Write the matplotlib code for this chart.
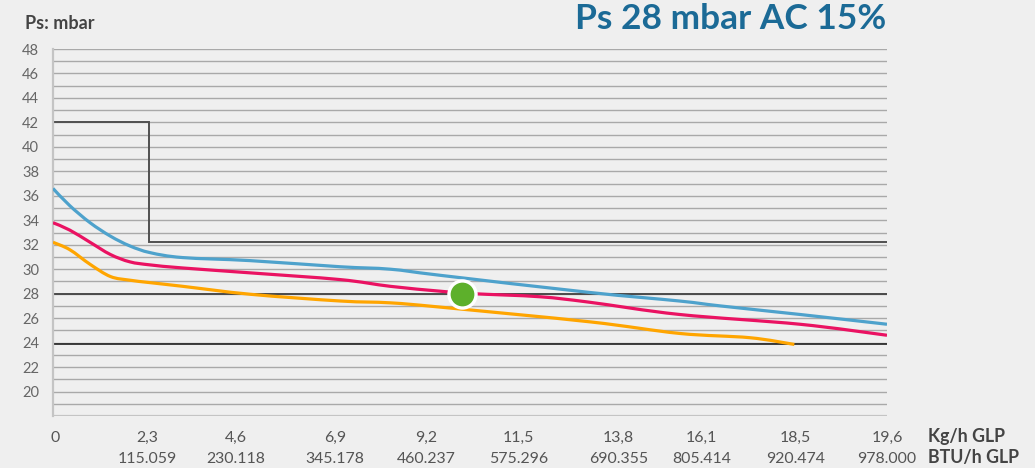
import matplotlib
matplotlib.use("Agg")
import matplotlib.pyplot as plt
import matplotlib.transforms as mtransforms
from matplotlib.path import Path
from matplotlib.patches import PathPatch

# ---- data (x expressed in tick-index units: 0 = "0", 9 = "19,6") ----
kg_labels = ["0", "2,3", "4,6", "6,9", "9,2", "11,5", "13,8", "16,1", "18,5", "19,6"]
btu_labels = ["", "115.059", "230.118", "345.178", "460.237", "575.296",
              "690.355", "805.414", "920.474", "978.000"]
y_ticks = [20, 22, 24, 26, 28, 30, 32, 34, 36, 38, 40, 42, 44, 46, 48]

blue_x = [0, 0.18, 0.40, 0.62, 0.83, 1.05, 1.40, 2.13, 3.10, 3.64, 4.18, 5.79, 6.76, 7.20, 8.06, 9.0]
blue_y = [36.6, 35.2, 33.8, 32.7, 31.9, 31.35, 30.95, 30.7, 30.2, 30.0, 29.5, 28.1, 27.4, 27.0, 26.3, 25.5]

red_x = [0, 0.18, 0.40, 0.62, 0.83, 1.05, 1.40, 2.13, 3.10, 3.64, 4.18, 4.53, 5.25, 5.79, 6.76, 8.06, 9.0]
red_y = [33.8, 33.2, 32.2, 31.2, 30.6, 30.35, 30.1, 29.7, 29.15, 28.6, 28.2, 28.0, 27.75, 27.3, 26.3, 25.5, 24.6]

orange_x = [0, 0.18, 0.40, 0.62, 0.83, 1.05, 1.40, 2.13, 3.10, 3.64, 4.18, 5.79, 6.76, 7.52, 8.0]
orange_y = [32.2, 31.6, 30.4, 29.4, 29.1, 28.9, 28.6, 27.95, 27.4, 27.25, 26.9, 25.7, 24.75, 24.4, 23.85]

limit_x = [0, 1.04, 1.04, 9.0]
limit_y = [42, 42, 32.25, 32.25]
ref_28 = 28
ref_low = 23.85
point_x, point_y = 4.41, 28

tick_pos = [0.02, 1.02, 1.97, 3.04, 4.03, 5.02, 6.10, 7.00, 8.01, 9.0]


def smooth_path(xs, ys, t=0.5):
    """Catmull-Rom curve through the points, as cubic Bezier segments."""
    pts = list(zip(xs, ys))
    verts = [pts[0]]
    codes = [Path.MOVETO]
    n = len(pts)
    for i in range(n - 1):
        p0 = pts[i - 1] if i > 0 else pts[i]
        p1 = pts[i]
        p2 = pts[i + 1]
        p3 = pts[i + 2] if i + 2 < n else pts[i + 1]
        c1 = (p1[0] + (p2[0] - p0[0]) * t / 3, p1[1] + (p2[1] - p0[1]) * t / 3)
        c2 = (p2[0] - (p3[0] - p1[0]) * t / 3, p2[1] - (p3[1] - p1[1]) * t / 3)
        verts += [c1, c2, p2]
        codes += [Path.CURVE4] * 3
    return Path(verts, codes)


# ---- figure ----
plt.rcParams['font.family'] = ['Lato', 'DejaVu Sans']
bg = '#efefef'
fig = plt.figure(figsize=(10.35, 4.68), dpi=100, facecolor=bg)
ax = fig.add_axes([53/1035, 52/468, (887-53)/1035, (416-49)/468])
ax.set_facecolor(bg)
ax.set_xlim(0, 9)
ax.set_ylim(18, 48)

for v in range(19, 49):
    ax.axhline(v, color='#a9a9a9', lw=1.0, zorder=1)
ax.axhline(18, color='#c4c4c4', lw=1.6, zorder=1)
for s in ['top', 'right', 'bottom']:
    ax.spines[s].set_visible(False)
ax.spines['left'].set_color('#c4c4c4')
ax.spines['left'].set_linewidth(1.6)

ax.axhline(ref_28, color='#4a4a4a', lw=1.4, zorder=2)
ax.axhline(ref_low, color='#222222', lw=1.2, zorder=2)
ax.plot(limit_x, limit_y, color='#505050', lw=1.4, zorder=2, solid_joinstyle='miter')

for xs, ys, col, z in [(blue_x, blue_y, '#4ea2cc', 3),
                       (orange_x, orange_y, '#ffa500', 3),
                       (red_x, red_y, '#ea1262', 4)]:
    ax.add_patch(PathPatch(smooth_path(xs, ys), facecolor='none', edgecolor=col,
                           lw=2.3, zorder=z, capstyle='butt', joinstyle='round'))

ax.plot([point_x], [point_y], 'o', ms=19.5, color='#5db02b', mec='white', mew=2.4, zorder=6)

ax.set_xticks([])
ax.set_yticks(y_ticks)
ax.set_yticklabels([str(v) for v in y_ticks], fontsize=10.5, color='#666666')
ax.tick_params(axis='y', length=0, pad=10)

trans = mtransforms.blended_transform_factory(ax.transData, fig.transFigure)
for p, k, b in zip(tick_pos, kg_labels, btu_labels):
    ax.text(p, (468-441.7)/468, k, transform=trans, ha='center', va='baseline',
            fontsize=11.4, color='#555555', clip_on=False)
    if b:
        ax.text(p, (468-462.7)/468, b, transform=trans, ha='center', va='baseline',
                fontsize=11.4, color='#555555', clip_on=False)

fig.text(928/1035, (468-441.7)/468, 'Kg/h GLP', ha='left', va='baseline',
         fontsize=12.8, fontweight='bold', color='#444444')
fig.text(928/1035, (468-462.7)/468, 'BTU/h GLP', ha='left', va='baseline',
         fontsize=12.8, fontweight='bold', color='#444444')

fig.text(25/1035, (468-29.3)/468, 'Ps: mbar', ha='left', va='baseline',
         fontsize=13, fontweight='bold', color='#444444')
fig.text(886/1035, (468-29.3)/468, 'Ps 28 mbar AC 15%', ha='right', va='baseline',
         fontsize=25.4, fontweight='bold', color='#1b6a96')

fig.savefig('out.png', dpi=100, facecolor=bg)
